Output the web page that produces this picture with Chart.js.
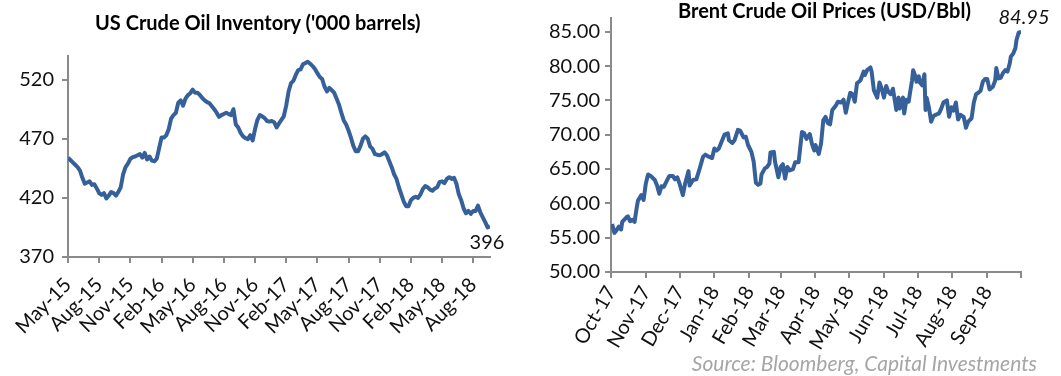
<!DOCTYPE html>
<html>
<head>
<meta charset="utf-8">
<script src="https://cdn.jsdelivr.net/npm/chart.js@4.4.0/dist/chart.umd.min.js"></script>
<style>
  html, body { margin: 0; padding: 0; background: #fff; }
  #wrap { position: relative; width: 1061px; height: 376px; overflow: hidden; font-family: Lato, "Open Sans", sans-serif; }
  canvas { position: absolute; top: 0; }
  #c1 { left: 0; }
  #c2 { left: 530px; }
  .title { position: absolute; font-weight: bold; font-size: 20px; line-height: 24px; color: #000; white-space: nowrap; }
  #t1 { left: 95px; top: 10px; }
  #t2 { left: 678px; top: -2px; }
  #src { position: absolute; right: 24px; top: 351px; font-style: italic; color: #a6a6a6; font-size: 21px; line-height: 24px; white-space: nowrap; }
</style>
</head>
<body>
<div id="wrap">
  <canvas id="c1" width="530" height="376"></canvas>
  <canvas id="c2" width="531" height="376"></canvas>
  <div class="title" id="t1">US Crude Oil Inventory ('000 barrels)</div>
  <div class="title" id="t2">Brent Crude Oil Prices (USD/Bbl)</div>
  <div id="src">Source: Bloomberg, Capital Investments</div>
</div>
<script>
// US crude inventory, weekly from early May 2015 ('000 barrels, millions shown)
const invWeekly = [
  454, 452, 450, 448, 446, 443, 437, 432, 433, 434,
  431, 431.5, 428, 424, 422.5, 424, 419.5, 422, 425, 424,
  422, 425, 429, 440, 446, 449, 453, 454.5, 455, 456,
  457, 454, 458, 452.5, 455, 451.5, 451, 453, 462, 471,
  471, 473, 478, 487, 490, 492, 500.6, 502.5, 498, 504,
  507, 508.5, 511.5, 509, 509, 507, 504.5, 502.5, 501, 500,
  497.5, 495, 492, 488.5, 490, 491, 492, 491, 490, 495,
  482, 479.5, 475, 472, 470.5, 469.7, 473, 468.5, 478, 486,
  490, 489, 487.5, 485, 484.5, 485, 484, 479.5, 483, 486,
  489, 498, 510, 517, 519, 524, 528, 528.7, 533, 534,
  535.2, 533.5, 531.5, 529, 525.5, 522.2, 520.5, 514, 510, 513,
  511, 509, 504, 499, 492, 485.5, 482, 477, 471, 464,
  459.5, 459.5, 464, 470, 472, 470, 463.5, 461.5, 457, 456.5,
  456, 457, 458.5, 456, 451, 446, 440, 436, 429, 423,
  417, 413, 413, 418, 420, 421, 420, 423, 427.5, 430,
  429, 427, 426, 428, 429, 433.5, 434, 432.5, 436, 437.5,
  436, 437, 432, 423, 418, 411, 407, 409, 406.5, 409,
  409, 413.5, 407.5, 403.5, 399.5, 395, 396
];
const invTickLabels = ['May-15', 'Aug-15', 'Nov-15', 'Feb-16', 'May-16', 'Aug-16', 'Nov-16',
  'Feb-17', 'May-17', 'Aug-17', 'Nov-17', 'Feb-18', 'May-18', 'Aug-18'];
const invTickStep = 13; // weeks between labels
const invYTicks = [370, 420, 470, 520];

// Brent, days counted from 1 Oct 2017
const brentDay = [
  1, 3, 5, 7, 9, 10, 14, 15, 17, 19, 21, 23, 24, 27, 29, 31, 33, 36, 39, 41,
  43, 45, 47, 50, 52, 55, 57, 59, 61, 64, 66, 69, 70, 73, 76, 79, 82, 84, 87, 90,
  92, 94, 96, 99, 101, 104, 105, 108, 110, 113, 115, 118, 120, 122, 125, 127, 129, 131, 133, 134,
  137, 139, 141, 142, 145, 146, 147, 149, 151, 153, 155, 157, 159, 162, 164, 167, 170, 172, 174, 177,
  179, 181, 182, 185, 187, 189, 191, 193, 195, 197, 200, 202, 205, 207, 209, 211, 213, 215, 217, 219,
  222, 225, 226, 228, 231, 232, 234, 237, 239, 241, 243, 245, 247, 249, 251, 254, 256, 257, 260, 261,
  263, 265, 266, 268, 269, 271, 272, 274, 275, 277, 279, 280, 281, 283, 285, 287, 289, 292, 294, 296,
  299, 301, 303, 305, 307, 309, 311, 314, 316, 318, 321, 323, 325, 327, 329, 331, 333, 335, 337, 340,
  342, 343, 345, 347, 349, 351, 353, 355, 356, 358, 360, 361, 363, 365
];
const brentPrice = [
  57.0, 55.7, 56.1, 56.6, 56.2, 57.3, 58.0, 58.1, 57.4, 57.6, 57.3, 59.5, 60.4, 61.2, 60.5, 62.9, 64.2, 63.9, 63.4, 62.6,
  61.4, 62.5, 62.4, 63.4, 64.0, 64.0, 63.5, 63.8, 62.9, 61.2, 62.9, 64.7, 62.6, 63.4, 63.5, 65.1, 66.8, 67.1, 66.8, 66.6,
  68.0, 67.7, 68.0, 69.2, 70.0, 70.2, 69.2, 68.8, 69.2, 70.7, 70.6, 69.6, 69.7, 68.5, 67.5, 66.1, 63.0, 62.7, 62.9, 64.2,
  65.1, 65.3, 65.8, 67.4, 67.5, 66.1, 65.3, 63.8, 65.3, 65.7, 63.6, 65.3, 64.8, 65.0, 66.0, 66.0, 70.4, 70.2, 69.4, 70.1,
  68.6, 67.7, 68.5, 67.2, 68.7, 72.1, 72.6, 71.7, 71.5, 73.6, 74.2, 74.8, 74.7, 75.1, 73.2, 74.7, 76.1, 75.9, 74.8, 77.5,
  77.9, 79.2, 78.7, 79.4, 79.8, 79.2, 76.5, 75.4, 77.6, 76.7, 75.4, 77.1, 76.2, 75.9, 76.7, 73.6, 75.4, 73.8, 75.4, 73.1,
  75.1, 74.8, 75.9, 77.9, 79.4, 78.5, 77.7, 78.5, 77.6, 77.2, 78.8, 73.6, 75.4, 74.0, 71.9, 72.7, 72.9, 73.1, 73.8, 74.7,
  75.0, 72.6, 74.0, 73.5, 74.7, 72.2, 72.9, 72.6, 71.0, 71.9, 72.4, 74.7, 75.9, 76.1, 76.4, 77.7, 78.1, 78.1, 76.6, 77.0,
  77.9, 79.7, 78.2, 78.3, 79.0, 79.4, 79.2, 80.4, 81.4, 81.8, 82.6, 83.8, 84.9, 84.95
];
const brentMonthDay = [0, 31, 61, 92, 123, 151, 182, 212, 243, 273, 304, 335, 365];
const brentMonthLabels = ['Oct-17', 'Nov-17', 'Dec-17', 'Jan-18', 'Feb-18', 'Mar-18', 'Apr-18',
  'May-18', 'Jun-18', 'Jul-18', 'Aug-18', 'Sep-18', ''];
const brentYTicks = [50, 55, 60, 65, 70, 75, 80, 85];

const lineColor = '#36609a';
const axisColor = '#8a8a8a';
const tickFont = { family: 'Lato', size: 20 };

// writes the last value next to the end of the line
const lastLabel = {
  id: 'lastLabel',
  afterDatasetsDraw(chart, args, opts) {
    const meta = chart.getDatasetMeta(0);
    const pt = meta.data[meta.data.length - 1];
    const data = chart.data.datasets[0].data;
    const ctx = chart.ctx;
    ctx.save();
    ctx.font = opts.font;
    ctx.fillStyle = '#111';
    ctx.textAlign = 'center';
    ctx.textBaseline = 'middle';
    ctx.fillText(opts.format(data[data.length - 1].y), pt.x + opts.dx, pt.y + opts.dy);
    ctx.restore();
  }
};

function axisGrid() {
  return { drawOnChartArea: false, drawTicks: true, tickLength: 6, color: axisColor, lineWidth: 2 };
}

new Chart(document.getElementById('c1'), {
  type: 'line',
  data: {
    datasets: [{
      data: invWeekly.map((v, i) => ({ x: i, y: v })),
      borderColor: lineColor,
      borderWidth: 4,
      pointRadius: 0,
      tension: 0,
      borderJoinStyle: 'round'
    }]
  },
  options: {
    responsive: false,
    animation: false,
    layout: { padding: { left: 8, top: 56, right: 40, bottom: 0 } },
    plugins: {
      legend: { display: false },
      tooltip: { enabled: false },
      lastLabel: { font: '20px Lato', format: v => Math.round(v), dx: -3, dy: 16 }
    },
    scales: {
      x: {
        type: 'linear',
        min: 0,
        max: invWeekly.length - 1,
        afterBuildTicks: s => { s.ticks = invTickLabels.map((_, i) => ({ value: i * invTickStep })); },
        afterFit: s => { s.height = 119; },
        ticks: {
          autoSkip: false, minRotation: 45, maxRotation: 45, padding: 10,
          color: '#111', font: tickFont,
          callback: (v, i) => invTickLabels[i]
        },
        grid: axisGrid(),
        border: { color: axisColor, width: 2 }
      },
      y: {
        min: 370,
        max: 540,
        afterBuildTicks: s => { s.ticks = invYTicks.map(v => ({ value: v })); },
        afterFit: s => { s.width = 60; },
        ticks: { padding: 8, color: '#111', font: tickFont },
        grid: axisGrid(),
        border: { color: axisColor, width: 2 }
      }
    }
  },
  plugins: [lastLabel]
});

new Chart(document.getElementById('c2'), {
  type: 'line',
  data: {
    datasets: [{
      data: brentDay.map((d, i) => ({ x: d, y: brentPrice[i] })),
      borderColor: lineColor,
      borderWidth: 4,
      pointRadius: 0,
      tension: 0,
      borderJoinStyle: 'round'
    }]
  },
  options: {
    responsive: false,
    animation: false,
    layout: { padding: { left: 6, top: 18, right: 40, bottom: 0 } },
    plugins: {
      legend: { display: false },
      tooltip: { enabled: false },
      lastLabel: { font: 'italic 20px Lato', format: v => v.toFixed(2), dx: 3, dy: -15 }
    },
    scales: {
      x: {
        type: 'linear',
        min: 0,
        max: 365,
        afterBuildTicks: s => { s.ticks = brentMonthDay.map(v => ({ value: v })); },
        afterFit: s => { s.height = 104; },
        ticks: {
          autoSkip: false, minRotation: 60, maxRotation: 60, padding: 4,
          color: '#111', font: tickFont,
          callback: (v, i) => brentMonthLabels[i]
        },
        grid: axisGrid(),
        border: { color: axisColor, width: 2 }
      },
      y: {
        min: 50,
        max: 87,
        afterBuildTicks: s => { s.ticks = brentYTicks.map(v => ({ value: v })); },
        afterFit: s => { s.width = 75; },
        ticks: { padding: 5, color: '#111', font: tickFont, callback: v => v.toFixed(2) },
        grid: axisGrid(),
        border: { color: axisColor, width: 2 }
      }
    }
  },
  plugins: [lastLabel]
});
</script>
</body>
</html>
